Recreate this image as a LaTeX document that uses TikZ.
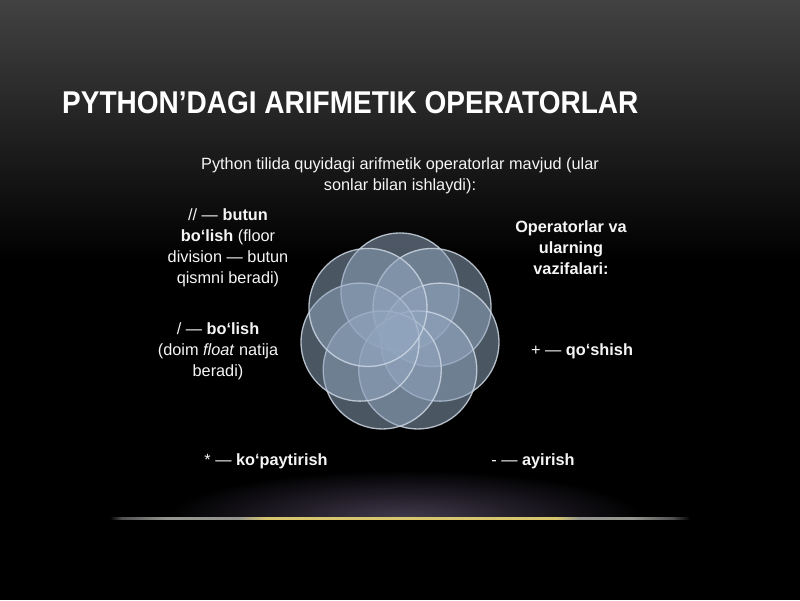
\documentclass[tikz,border=0pt]{standalone}
\usepackage{fontspec}
\setmainfont{Liberation Sans}
\usetikzlibrary{fadings}
\tikzfading[name=myglow, inner color=transparent!0, outer color=transparent!100]
\definecolor{goldc}{RGB}{215,198,110}
\definecolor{greyc}{RGB}{150,150,145}
\definecolor{greyd}{RGB}{80,80,80}
\definecolor{haze}{RGB}{66,58,78}
\definecolor{topgrey}{RGB}{66,66,66}
\definecolor{petal}{RGB}{145,165,190}
\definecolor{petalline}{RGB}{205,215,228}
\definecolor{txt}{RGB}{245,245,245}
\pgfdeclarehorizontalshading{glowline}{100bp}{color(0bp)=(black); color(25bp)=(black); color(26bp)=(greyd); color(30bp)=(greyc); color(36bp)=(greyc); color(38.5bp)=(goldc); color(63.5bp)=(goldc); color(65.5bp)=(greyc); color(70bp)=(greyc); color(73.5bp)=(greyd); color(75bp)=(black); color(100bp)=(black)}
\tikzset{
  body/.style={text=txt, align=center, font=\fontsize{16.3}{21}\selectfont, inner sep=0pt},
  petalc/.style={fill=petal, fill opacity=0.52, draw=petalline, draw opacity=0.85, line width=1.3pt}
}
\begin{document}
\begin{tikzpicture}[x=1pt,y=-1pt]
\useasboundingbox (0,0) rectangle (800,600);
\fill[black] (0,0) rectangle (800,600);
\shade[top color=topgrey, bottom color=black] (0,0) rectangle (800,260);
% bottom glow
\begin{scope}
\clip (0,420) rectangle (800,517.5);
\fill[haze, path fading=myglow] (405,518) ellipse (240 and 48);
\end{scope}
\shade[shading=glowline] (110,517) rectangle (690,519.8);
% title
\node[anchor=base west, inner sep=0pt, text=white] (title) at (62,113)
  {\resizebox{576pt}{22pt}{\bfseries PYTHON’DAGI ARIFMETIK OPERATORLAR}};
% intro
\node[body] (intro) at (400,176) {Python tilida quyidagi arifmetik operatorlar mavjud (ular\\sonlar bilan ishlaydi):};
% petals
\begin{scope}[shift={(400,333)}]
\foreach \k in {0,...,6}{
  \path[petalc] ({-90+\k*360/7}:41) circle (59);
}
\end{scope}
% labels
\node[body] (floordiv) at (228,248) {// — \textbf{butun}\\\textbf{bo‘lish} (floor\\division — butun\\qismni beradi)};
\node[body] (div) at (218,351) {/ — \textbf{bo‘lish}\\(doim \textit{float} natija\\beradi)};
\node[body, font=\fontsize{16.3}{21}\selectfont\bfseries] (head) at (571,248) {Operatorlar va\\ularning\\vazifalari:};
\node[body] (add) at (582,351) {+ — \textbf{qo‘shish}};
\node[body] (mul) at (266,461) {* — \textbf{ko‘paytirish}};
\node[body] (sub) at (533,461) {- — \textbf{ayirish}};
\end{tikzpicture}
\end{document}
